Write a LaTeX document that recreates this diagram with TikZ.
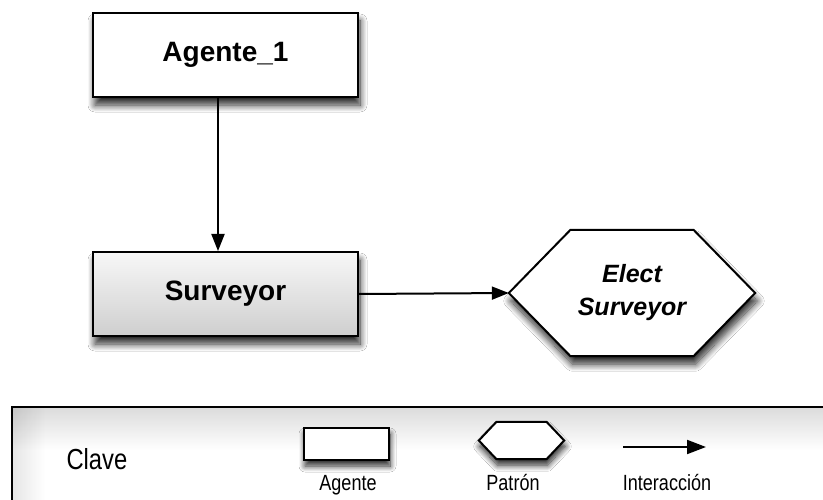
\documentclass[tikz,border=0pt]{standalone}
\usepackage{fontspec}
\setmainfont{Liberation Sans}
\newfontfamily\narrowsans[FakeStretch=0.82]{Liberation Sans}
\usetikzlibrary{shadows.blur,arrows.meta,fadings}

\begin{document}
\begin{tikzpicture}[x=1pt,y=-1pt,
  softshadow/.style={blur shadow={shadow xshift=2pt, shadow yshift=-8pt,
      shadow blur radius=7pt, shadow blur steps=12, shadow opacity=85}},
  smallshadow/.style={blur shadow={shadow xshift=1pt, shadow yshift=-6pt,
      shadow blur radius=6pt, shadow blur steps=10, shadow opacity=85}},
  agentbox/.style={draw=black, line width=2pt, fill=white,
      minimum width=265pt, minimum height=84pt, inner sep=0pt,
      font=\fontsize{28}{32}\selectfont\bfseries, softshadow},
  rolebox/.style={agentbox, top color=gray!6, bottom color=gray!38},
  hexline/.style={draw=black, line width=2pt, fill=white},
  conn/.style={draw=black, line width=2pt,
      -{Triangle[length=17pt,width=13pt]}},
  keytitle/.style={font=\narrowsans\fontsize{29}{32}\selectfont, anchor=base west},
  keylabel/.style={font=\narrowsans\fontsize{22}{26}\selectfont, anchor=base},
  keybox/.style={draw=black, line width=2pt, fill=white,
      minimum width=85pt, minimum height=32pt, inner sep=0pt, smallshadow},
]
\clip (0,0) rectangle (823,500);
\fill[white] (0,0) rectangle (823,500);

% agents
\node[agentbox] (agent) at (225.5,55) {Agente\_1};
\node[rolebox] (surv) at (225.5,294) {Surveyor};

% pattern hexagon
\path node[minimum width=246pt, minimum height=126pt, inner sep=0pt] (elect) at (632,293) {};
\path[hexline, softshadow] (elect.west) -- ([xshift=-61.5pt]elect.north) -- ([xshift=61.5pt]elect.north)
  -- (elect.east) -- ([xshift=61.5pt]elect.south) -- ([xshift=-61.5pt]elect.south) -- cycle;
\node[align=center, font=\fontsize{25}{33}\selectfont\bfseries\itshape] (electlabel)
  at (elect.center) {Elect\\Surveyor};

% interactions
\draw[conn] ([xshift=-7.5pt]agent.south) -- ([xshift=-7.5pt]surv.north);
\draw[conn] (surv.east) -- (elect.west);

% key panel
\fill[white] (12,407) rectangle (840,520);
\fill[black, opacity=0.14, path fading=south] (12,407) rectangle (840,450);
\fill[black, opacity=0.10, path fading=east] (12,407) rectangle (45,520);
\draw[line width=2pt] (12,407) rectangle (840,520);

\node[keytitle] (clave) at (63,469) {Clave};

\node[keybox] (keyagent) at (346.5,444) {};
\node[keylabel] (keyagentlabel) at (348,490) {Agente};

\path node[minimum width=85pt, minimum height=37pt, inner sep=0pt] (keyhex) at (521.5,440.5) {};
\path[hexline, smallshadow]
  (keyhex.west) -- ([xshift=-25pt]keyhex.north) -- ([xshift=25pt]keyhex.north)
  -- (keyhex.east) -- ([xshift=25pt]keyhex.south) -- ([xshift=-25pt]keyhex.south) -- cycle;
\node[keylabel] (keyhexlabel) at (513,490) {Patrón};

\coordinate (keyfrom) at (623,447);
\coordinate (keyto) at (706,447);
\draw[draw=black, line width=2pt, -{Triangle[length=19pt,width=14pt]}] (keyfrom) -- (keyto);
\node[keylabel] (keyarrowlabel) at (667,490) {Interacción};
\end{tikzpicture}
\end{document}
